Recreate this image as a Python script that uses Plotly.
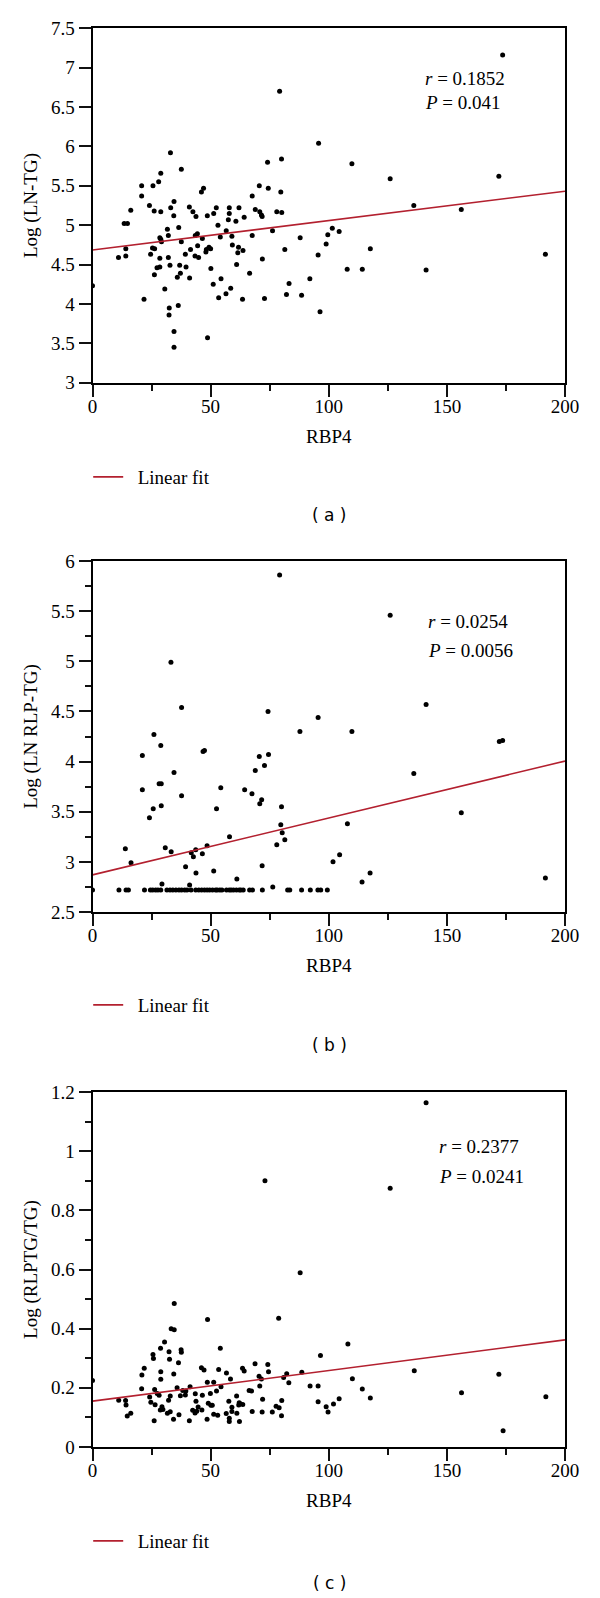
import plotly.graph_objects as go

# ---- panel (a): Log(LN-TG) vs RBP4 ----
rbp4_a = [0, 11.0, 14.1, 14.1, 13.4, 14.8, 16.2, 20.8, 20.8, 21.8, 24.1, 25.6, 26.1, 28.0, 28.9,
          28.9, 24.6, 25.4, 26.3, 26.2, 27.3, 28.5, 28.5, 28.9, 29.2, 28.5, 30.6, 31.7, 32.1, 32.1,
          32.5, 32.4, 33.0, 33.1, 32.8, 34.5, 34.4, 34.5, 34.5, 36.5, 36.3, 35.9, 36.9, 37.2, 37.6,
          37.6, 39.3, 39.6, 41.0, 41.1, 41.5, 42.5, 43.8, 43.5, 44.4, 43.4, 44.5, 44.9, 46.1, 47.0,
          46.5, 48.6, 48.0, 48.2, 49.3, 50.0, 48.7, 50.1, 51.3, 52.4, 51.1, 53.1, 54.1, 53.4, 54.4,
          56.6, 57.9, 57.9, 57.5, 59.0, 59.2, 58.5, 56.5, 60.7, 62.0, 61.8, 61.5, 61.0, 64.2, 63.5,
          63.7, 66.5, 67.6, 67.6, 68.9, 70.6, 70.8, 71.5, 71.8, 71.9, 72.8, 74.1, 74.4, 76.2, 78.0,
          79.7, 80.0, 80.1, 81.4, 83.2, 82.1, 87.9, 88.5, 92.0, 95.5, 96.3, 98.9, 99.6, 101.5, 104.4,
          79.2, 95.7, 107.8, 109.8, 114.2, 117.6, 126.0, 136.0, 141.2, 156.1, 172.0, 173.6, 191.7]
log_ln_tg = [4.23, 4.59, 4.61, 4.70, 5.02, 5.02, 5.19, 5.50, 5.37, 4.06, 5.25, 5.50, 5.18, 5.55, 5.66,
             5.17, 4.63, 4.71, 4.70, 4.37, 4.46, 4.47, 4.84, 4.82, 4.79, 4.58, 4.19, 4.95, 4.87, 4.59,
             3.95, 3.86, 5.92, 5.22, 4.49, 5.30, 5.12, 3.65, 3.45, 4.97, 3.98, 4.34, 4.49, 4.39, 4.79,
             5.71, 4.63, 4.47, 5.23, 4.33, 4.69, 5.17, 5.11, 4.87, 4.89, 4.61, 4.74, 4.59, 5.42, 5.47,
             4.83, 5.12, 4.66, 4.69, 4.72, 4.70, 3.57, 4.45, 5.15, 5.22, 4.25, 5.00, 4.85, 4.08, 4.32,
             4.93, 5.22, 5.15, 5.07, 4.86, 4.75, 4.20, 4.13, 5.05, 5.22, 4.72, 4.65, 4.50, 5.10, 4.06,
             4.68, 4.39, 4.87, 5.37, 5.20, 5.50, 5.17, 5.13, 5.11, 4.57, 4.07, 5.80, 5.47, 4.93, 5.17,
             5.42, 5.84, 5.16, 4.69, 4.26, 4.12, 4.84, 4.11, 4.32, 4.62, 3.90, 4.76, 4.88, 4.96, 4.92,
             6.70, 6.04, 4.44, 5.78, 4.44, 4.70, 5.59, 5.25, 4.43, 5.20, 5.62, 7.16, 4.63]
fit_x = [0, 200]
fit_a = [4.685, 5.432]

# ---- panel (b): Log(LN RLP-TG) vs RBP4 ----
rbp4_b = [33.2, 37.7, 74.3, 95.5, 87.8, 26.0, 28.9, 21.1, 46.8, 47.4, 70.6, 74.5, 72.8, 68.9, 34.5,
          21.1, 28.2, 29.1, 37.7, 54.3, 64.4, 67.5, 71.6, 70.8, 80.0, 25.7, 29.1, 24.1, 52.5, 79.7,
          80.3, 81.4, 78.0, 58.0, 48.5, 43.7, 41.8, 42.7, 46.5, 30.8, 33.3, 13.9, 16.3, 39.4, 71.8,
          51.3, 43.8, 61.1, 29.4, 41.1, 76.3, 101.8, 104.6, 107.9, 109.8, 114.1, 117.5, 126.0, 136.0,
          141.2, 156.1, 172.2, 173.6, 191.7, 79.2,
          0, 11.2, 14.2, 15.2, 22.0, 24.5, 25.5, 26.7, 27.7, 28.9, 31.5, 32.8, 34.0, 35.3, 36.6,
          37.7, 39.0, 40.0, 41.7, 43.7, 45.0, 46.2, 47.4, 48.5, 49.6, 50.8, 52.1, 52.8, 53.9, 54.8,
          56.7, 57.9, 58.7, 59.7, 60.9, 62.1, 62.8, 63.8, 66.5, 67.7, 71.9, 82.6, 83.5, 88.5, 92.2,
          95.4, 96.6, 99.4]
log_ln_rlp_tg = [4.99, 4.54, 4.50, 4.44, 4.30, 4.27, 4.16, 4.06, 4.10, 4.11, 4.05, 4.07, 3.96, 3.91, 3.89,
                 3.72, 3.78, 3.78, 3.66, 3.74, 3.72, 3.68, 3.62, 3.58, 3.55, 3.53, 3.56, 3.44, 3.53, 3.37,
                 3.29, 3.22, 3.17, 3.25, 3.16, 3.12, 3.09, 3.05, 3.08, 3.14, 3.10, 3.13, 2.99, 2.95, 2.96,
                 2.91, 2.89, 2.83, 2.78, 2.77, 2.75, 3.00, 3.07, 3.38, 4.30, 2.80, 2.89, 5.46, 3.88,
                 4.57, 3.49, 4.20, 4.21, 2.84, 5.86,
                 2.72, 2.72, 2.72, 2.72, 2.72, 2.72, 2.72, 2.72, 2.72, 2.72, 2.72, 2.72, 2.72, 2.72, 2.72,
                 2.72, 2.72, 2.72, 2.72, 2.72, 2.72, 2.72, 2.72, 2.72, 2.72, 2.72, 2.72, 2.72, 2.72, 2.72,
                 2.72, 2.72, 2.72, 2.72, 2.72, 2.72, 2.72, 2.72, 2.72, 2.72, 2.72, 2.72, 2.72, 2.72, 2.72,
                 2.72, 2.72, 2.72]
fit_b = [2.870, 4.005]

# ---- panel (c): Log(RLPTG/TG) vs RBP4 ----
rbp4_c = [0, 11.1, 14.0, 14.2, 14.7, 16.2, 20.9, 21.9, 20.8, 24.2, 25.6, 25.8, 26.3, 24.7, 26.5,
          26.1, 27.4, 28.8, 28.9, 28.9, 28.2, 28.7, 29.4, 29.8, 30.5, 32.4, 32.6, 32.9, 32.2, 31.7,
          32.9, 33.3, 34.6, 34.6, 34.4, 34.3, 35.8, 36.4, 37.5, 37.6, 37.2, 36.6, 38.2, 39.5, 39.3,
          41.3, 41.0, 43.5, 43.8, 42.4, 43.4, 44.7, 44.1, 46.1, 47.2, 46.5, 46.3, 48.7, 48.6, 49.9,
          49.0, 50.1, 50.7, 51.3, 48.5, 51.3, 52.5, 53.4, 54.1, 54.4, 53.0, 56.7, 58.4, 57.7, 56.6,
          57.9, 57.9, 59.0, 59.0, 61.0, 61.1, 62.1, 61.9, 62.5, 62.2, 63.5, 64.2, 63.6, 66.3, 67.3,
          67.6, 68.8, 70.5, 70.8, 71.5, 72.0, 71.8, 74.2, 74.5, 76.1, 78.8, 77.7, 79.0, 80.1, 80.0,
          80.9, 82.2, 83.1, 87.9, 88.6, 92.1, 95.5, 96.5, 95.5, 98.9, 99.7, 102.0, 104.4, 108.1,
          110.0, 114.2, 117.6, 136.2, 156.2, 172.0, 173.8, 191.9, 126.0, 141.2, 73.0]
log_rlptg_tg = [0.225, 0.158, 0.157, 0.142, 0.105, 0.114, 0.243, 0.266, 0.197, 0.169, 0.313, 0.299, 0.194, 0.151, 0.143,
                0.089, 0.181, 0.334, 0.254, 0.229, 0.175, 0.125, 0.136, 0.127, 0.355, 0.322, 0.297, 0.172, 0.158, 0.114,
                0.119, 0.400, 0.396, 0.485, 0.247, 0.094, 0.200, 0.285, 0.329, 0.320, 0.173, 0.109, 0.191, 0.189, 0.176,
                0.204, 0.089, 0.180, 0.155, 0.124, 0.115, 0.135, 0.121, 0.268, 0.260, 0.175, 0.125, 0.431, 0.219, 0.181,
                0.148, 0.141, 0.141, 0.219, 0.094, 0.111, 0.189, 0.262, 0.334, 0.204, 0.107, 0.250, 0.230, 0.155, 0.113,
                0.097, 0.086, 0.134, 0.120, 0.172, 0.114, 0.150, 0.142, 0.146, 0.086, 0.266, 0.257, 0.144, 0.191, 0.189,
                0.120, 0.281, 0.239, 0.206, 0.230, 0.161, 0.118, 0.279, 0.254, 0.118, 0.435, 0.138, 0.133, 0.157, 0.106,
                0.235, 0.248, 0.217, 0.589, 0.253, 0.206, 0.206, 0.309, 0.153, 0.136, 0.118, 0.145, 0.163, 0.348,
                0.231, 0.196, 0.166, 0.258, 0.183, 0.246, 0.055, 0.170, 0.875, 1.164, 0.900]
fit_c = [0.155, 0.362]

stats = [("0.1852", "0.041"), ("0.0254", "0.0056"), ("0.2377", "0.0241")]
y_titles = ["Log (LN-TG)", "Log (LN RLP-TG)", "Log (RLPTG/TG)"]
captions = ["( a )", "( b )", "( c )"]

SERIF = "Liberation Serif"
FIT_RED = "#b3202f"
TICK = "#111111"
# the page body has an 8px margin, so the figure is 8px smaller and
# every page position below is shifted by that amount
OFF = 8
W, H = 600 - OFF, 1598 - OFF
M = 10  # final figure margin; paper coords are measured inside it


def py(y_page):
    return 1 - (y_page - OFF - M) / (H - 2 * M)


def px_(x_page):
    return (x_page - OFF - M) / (W - 2 * M)


panels = [
    dict(x=rbp4_a, y=log_ln_tg, fit=fit_a, yrange=[3, 7.5], dtick=0.5, minor=None,
         top=28.3, bottom=382.7, stat_xy=(140, 6.86, 6.56), leg_y=477, cap_y=515),
    dict(x=rbp4_b, y=log_ln_rlp_tg, fit=fit_b, yrange=[2.5, 6], dtick=0.5, minor=0.25,
         top=561, bottom=912, stat_xy=(141, 5.40, 5.11), leg_y=1005, cap_y=1045),
    dict(x=rbp4_c, y=log_rlptg_tg, fit=fit_c, yrange=[0, 1.2], dtick=0.2, minor=0.1,
         top=1092, bottom=1447, stat_xy=(146, 1.017, 0.913), leg_y=1541, cap_y=1583),
]

fig = go.Figure()
annotations = []
axes_layout = {}

for i, p in enumerate(panels, start=1):
    sx = "" if i == 1 else str(i)
    leg = "legend" if i == 1 else f"legend{i}"
    fig.add_trace(go.Scatter(x=p["x"], y=p["y"], mode="markers", xaxis="x" + sx, yaxis="y" + sx,
                             marker=dict(color="black", size=5), showlegend=False))
    fig.add_trace(go.Scatter(x=fit_x, y=p["fit"], mode="lines", xaxis="x" + sx, yaxis="y" + sx,
                             line=dict(color=FIT_RED, width=1.6), name="\u00a0\u00a0Linear fit", legend=leg))

    axes_layout["xaxis" + sx] = go.layout.XAxis(
        domain=[px_(92.5), px_(565)], range=[0, 200], dtick=50, anchor="y" + sx,
        ticks="outside", ticklen=12, tickwidth=2, tickcolor=TICK, automargin="top",
        ticklabelstandoff=-7,
        showline=True, linecolor="black", linewidth=2, mirror=True,
        showgrid=False, zeroline=False,
        tickfont=dict(family=SERIF, size=19, color="black"),
        minor=dict(ticks="outside", ticklen=6, dtick=25, tickcolor=TICK, tickwidth=2),
        title=dict(text="RBP4", font=dict(family=SERIF, size=19), standoff=14))
    yax = go.layout.YAxis(
        domain=[py(p["bottom"]), py(p["top"])], range=p["yrange"], dtick=p["dtick"], anchor="x" + sx,
        ticks="outside", ticklen=12, tickwidth=2, tickcolor=TICK, automargin="right",
        showline=True, linecolor="black", linewidth=2, mirror=True,
        showgrid=False, zeroline=False,
        tickfont=dict(family=SERIF, size=19, color="black"),
        title=dict(text=y_titles[i - 1], font=dict(family=SERIF, size=19), standoff=8))
    if p["minor"]:
        yax.minor = dict(ticks="outside", ticklen=6, dtick=p["minor"], tickcolor=TICK, tickwidth=2)
    axes_layout["yaxis" + sx] = yax

    axes_layout[leg] = dict(x=px_(88.2), y=py(p["leg_y"]), xanchor="left", yanchor="middle",
                            bgcolor="rgba(0,0,0,0)", itemwidth=30,
                            font=dict(family=SERIF, size=19, color="black"))

    r_val, p_val = stats[i - 1]
    sxp, ry, pyv = p["stat_xy"]
    annotations.append(dict(x=sxp, y=ry, xref="x" + sx, yref="y" + sx, xanchor="left", yanchor="middle",
                            showarrow=False, text=f"<i>r</i> = {r_val}", font=dict(family=SERIF, size=19)))
    annotations.append(dict(x=sxp, y=pyv, xref="x" + sx, yref="y" + sx, xanchor="left", yanchor="middle",
                            showarrow=False, text=f"<i>P</i> = {p_val}", font=dict(family=SERIF, size=19)))
    annotations.append(dict(x=px_(329), y=py(p["cap_y"]), xref="paper", yref="paper",
                            xanchor="center", yanchor="middle", showarrow=False,
                            text=captions[i - 1], font=dict(family="DejaVu Sans", size=17)))

# start one pixel off and settle on the final margin with a relayout:
# the tick marks only get drawn on a re-plot after a margin change
fig.update_layout(width=W, height=H, margin=dict(l=M - 1, r=M - 1, t=M - 1, b=M - 1),
                  paper_bgcolor="white", plot_bgcolor="white",
                  font=dict(family=SERIF, size=19, color="black"),
                  annotations=annotations, **axes_layout)

settle = ("var gd = document.getElementById('{plot_id}');"
          "return Plotly.relayout(gd, {'margin.l': %d, 'margin.r': %d, 'margin.t': %d, 'margin.b': %d});"
          % (M, M, M, M))
fig.write_html("out.html", post_script=settle)
